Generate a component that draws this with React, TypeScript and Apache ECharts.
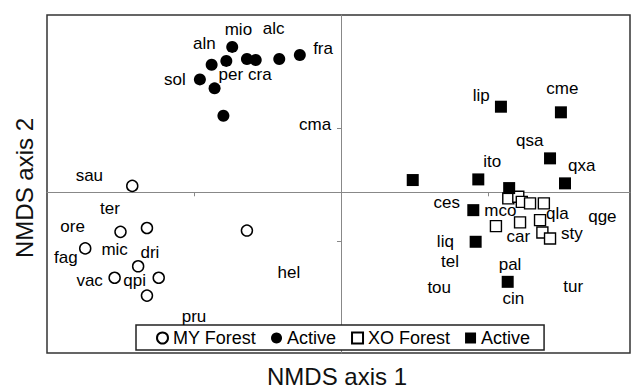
import React, { useEffect, useRef } from "react";
import * as echarts from "echarts";

// Site scores (NMDS axis 1, NMDS axis 2)
const myForest: number[][] = [
  [-0.71, 0.05], [-0.75, -0.31], [-0.66, -0.28], [-0.32, -0.3], [-0.87, -0.44],
  [-0.69, -0.58], [-0.77, -0.67], [-0.62, -0.67], [-0.66, -0.81],
];
const myActive: number[][] = [
  [-0.37, 1.14], [-0.44, 1.0], [-0.39, 1.03], [-0.32, 1.045], [-0.29, 1.037],
  [-0.21, 1.045], [-0.14, 1.076], [-0.48, 0.885], [-0.43, 0.815], [-0.4, 0.6],
];
const xoForest: number[][] = [
  [0.569, -0.048], [0.603, -0.035], [0.615, -0.075], [0.643, -0.087], [0.69, -0.087],
  [0.527, -0.265], [0.609, -0.236], [0.677, -0.218], [0.685, -0.315], [0.711, -0.362],
];
const xoActive: number[][] = [
  [0.544, 0.671], [0.748, 0.627], [0.711, 0.266], [0.244, 0.096], [0.467, 0.101],
  [0.762, 0.07], [0.572, 0.033], [0.45, -0.14], [0.458, -0.388], [0.567, -0.702],
];

// Species scores
const speciesNames: string[] = [
  "sau", "ter", "ore", "fag", "mic", "dri", "vac", "qpi", "hel", "pru",
  "mio", "alc", "aln", "fra", "sol", "per", "cra", "cma",
  "lip", "cme", "qsa", "ito", "qxa", "ces", "mco", "qla", "qge", "car", "sty",
  "liq", "tel", "pal", "tou", "tur", "cin",
];
const speciesX: number[] = [
  -0.856, -0.786, -0.913, -0.936, -0.77, -0.65, -0.855, -0.702, -0.177, -0.5,
  -0.349, -0.229, -0.465, -0.061, -0.565, -0.375, -0.276, -0.088,
  0.477, 0.753, 0.642, 0.514, 0.819, 0.36, 0.542, 0.736, 0.889, 0.603, 0.785,
  0.355, 0.371, 0.575, 0.334, 0.79, 0.586,
];
const speciesY: number[] = [
  0.135, -0.124, -0.271, -0.514, -0.445, -0.475, -0.689, -0.689, -0.626, -0.976,
  1.278, 1.285, 1.168, 1.131, 0.888, 0.927, 0.927, 0.535,
  0.762, 0.815, 0.409, 0.239, 0.213, -0.082, -0.14, -0.165, -0.187, -0.349, -0.322,
  -0.388, -0.54, -0.565, -0.746, -0.736, -0.832,
];

const legendNames: string[] = ["MY Forest", "MY Active", "XO Forest", "XO Active"];
const xTicks: number[] = [-0.5, 0.5];
const yTicks: number[] = [-0.38, 0.5];
const xTitle = "NMDS axis 1";
const yTitle = "NMDS axis 2";

const FONT = "'Liberation Sans', Arial, sans-serif";

export default function App() {
  const ref = useRef<HTMLDivElement>(null);
  useEffect(() => {
    if (!ref.current) return;
    const chart = echarts.init(ref.current, undefined, { renderer: "svg" });
    const species = speciesNames.map((n, i) => ({ value: [speciesX[i], speciesY[i]], name: n }));
    chart.setOption({
      animation: false,
      textStyle: { fontFamily: FONT },
      grid: {
        left: 47, right: 1, top: 15, bottom: 37, show: true,
        borderColor: "#333", borderWidth: 1.5, backgroundColor: "transparent",
      },
      xAxis: {
        type: "value", min: -1, max: 0.983, interval: 0.5,
        axisLine: { show: true, onZero: true, lineStyle: { color: "#888", width: 1 } },
        axisTick: { show: true, length: 4, customValues: xTicks, lineStyle: { color: "#888" } },
        axisLabel: { show: false }, splitLine: { show: false },
      },
      yAxis: {
        type: "value", min: -1.26, max: 1.39,
        axisLine: { show: true, onZero: true, lineStyle: { color: "#888", width: 1 } },
        axisTick: { show: true, length: 4, customValues: yTicks, lineStyle: { color: "#888" } },
        axisLabel: { show: false }, splitLine: { show: false },
      },
      legend: {
        left: 136, top: 325, orient: "horizontal",
        padding: [4, 14, 3, 20], itemGap: 15, itemWidth: 11, itemHeight: 11,
        backgroundColor: "#fff", borderColor: "#222", borderWidth: 1.5, borderRadius: 0,
        selectedMode: false,
        textStyle: { fontSize: 18, color: "#000", fontFamily: FONT },
        formatter: (n: string) => (n.indexOf("Active") >= 0 ? "Active" : n),
        data: [
          { name: legendNames[0], icon: "circle" },
          { name: legendNames[1], icon: "circle" },
          { name: legendNames[2], icon: "rect" },
          { name: legendNames[3], icon: "rect" },
        ],
      },
      graphic: [
        {
          type: "text", x: 337, y: 376,
          style: { text: xTitle, fontSize: 24, fontFamily: FONT, fill: "#111", textAlign: "center", textVerticalAlign: "middle" },
        },
        {
          type: "text", x: 24, y: 188, rotation: Math.PI / 2,
          style: { text: yTitle, fontSize: 24, fontFamily: FONT, fill: "#111", textAlign: "center", textVerticalAlign: "middle" },
        },
      ],
      series: [
        {
          name: legendNames[0], type: "scatter", symbol: "circle", symbolSize: 11, data: myForest,
          itemStyle: { color: "#fff", borderColor: "#000", borderWidth: 1.5, opacity: 1 }, silent: true,
        },
        {
          name: legendNames[1], type: "scatter", symbol: "circle", symbolSize: 12, data: myActive,
          itemStyle: { color: "#000", opacity: 1 }, silent: true,
        },
        {
          name: legendNames[2], type: "scatter", symbol: "rect", symbolSize: 11, data: xoForest,
          itemStyle: { color: "#fff", borderColor: "#000", borderWidth: 1.4, opacity: 1 }, silent: true,
        },
        {
          name: legendNames[3], type: "scatter", symbol: "rect", symbolSize: 12, data: xoActive,
          itemStyle: { color: "#000", opacity: 1 }, silent: true,
        },
        {
          name: "species", type: "scatter", symbolSize: 1, data: species, silent: true,
          itemStyle: { color: "rgba(0,0,0,0)" },
          label: {
            show: true, position: "inside", formatter: (p: any) => p.name,
            fontSize: 17, color: "#000", opacity: 1, textBorderWidth: 0, fontFamily: FONT,
          },
          z: 5,
        },
      ],
    });
    return () => chart.dispose();
  }, []);
  return <div ref={ref} style={{ position: "absolute", left: 0, top: 0, width: 631, height: 390 }} />;
}
